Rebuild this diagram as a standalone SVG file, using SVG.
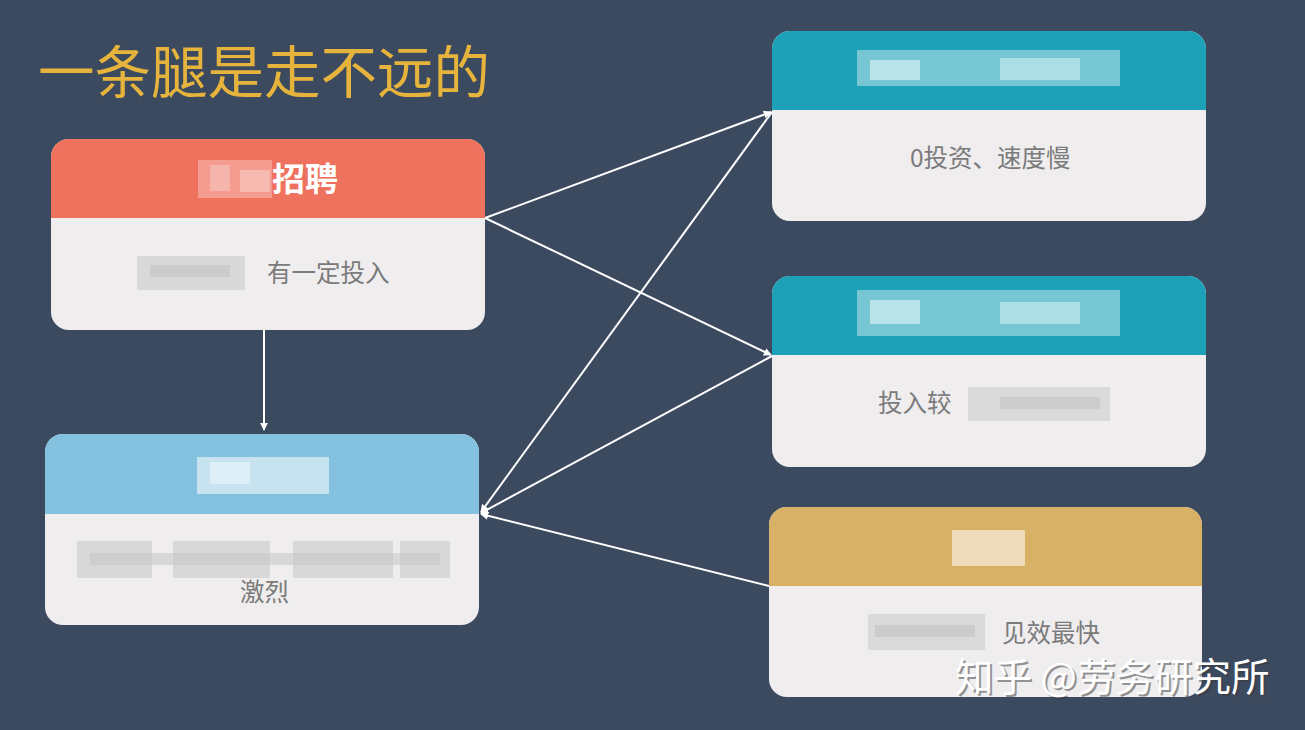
<svg xmlns="http://www.w3.org/2000/svg" width="1305" height="730" viewBox="0 0 1305 730">
<defs>
<style>
.body{fill:#efedee}
.btxt{font-family:"Noto Sans CJK SC","Noto Sans",sans-serif;font-size:24.5px;fill:#7b7b7b}
.htxt{font-family:"Noto Sans CJK SC","Noto Sans",sans-serif;font-size:33px;font-weight:bold;fill:#ffffff}
.conn{stroke:#ffffff;stroke-width:2;fill:none;marker-end:url(#ah)}
.mg{fill:#bdbdbd}
.mw{fill:#ffffff}
</style>
<marker id="ah" viewBox="0 0 10 10" refX="9" refY="5" markerWidth="8" markerHeight="8" orient="auto" markerUnits="userSpaceOnUse">
<path d="M0,0 L10,5 L0,10 z" fill="#ffffff"/>
</marker>
<clipPath id="c1"><rect x="51" y="139" width="434" height="191" rx="18"/></clipPath>
<clipPath id="c2"><rect x="45" y="434" width="434" height="191" rx="18"/></clipPath>
<clipPath id="c3"><rect x="772" y="31" width="434" height="190" rx="18"/></clipPath>
<clipPath id="c4"><rect x="772" y="276" width="434" height="191" rx="18"/></clipPath>
<clipPath id="c5"><rect x="769" y="507" width="433" height="190" rx="18"/></clipPath>
</defs>
<rect width="1305" height="730" fill="#3c4a60"/>
<text x="38" y="93" font-family="Noto Sans CJK SC,Noto Sans,sans-serif" font-size="56.5" fill="#e6b43c">一条腿是走不远的</text>

<g id="connectors">
<line class="conn" x1="485" y1="218" x2="771" y2="112"/>
<line class="conn" x1="485" y1="218" x2="771" y2="355"/>
<line class="conn" x1="772" y1="112" x2="481" y2="512"/>
<line class="conn" x1="772" y1="356" x2="481" y2="513"/>
<line class="conn" x1="769" y1="586" x2="481" y2="514"/>
<line class="conn" x1="264" y1="330" x2="264" y2="430"/>
</g>

<g id="node-recruit" clip-path="url(#c1)">
<rect class="body" x="51" y="139" width="434" height="191"/>
<rect x="51" y="139" width="434" height="79" fill="#ef725f"/>
<g opacity="0.6">
<rect class="mw" x="198" y="160" width="74" height="38" opacity="0.5"/>
<rect class="mw" x="210" y="165" width="20" height="26" opacity="0.6"/>
<rect class="mw" x="240" y="170" width="30" height="22" opacity="0.7"/>
</g>
<text class="htxt" x="272" y="191">招聘</text>
<g opacity="0.8">
<rect class="mg" x="137" y="256" width="108" height="34" opacity="0.5"/>
<rect class="mg" x="150" y="265" width="80" height="12" opacity="0.7"/>
</g>
<text class="btxt" x="267" y="282">有一定投入</text>
</g>

<g id="node-blue" clip-path="url(#c2)">
<rect class="body" x="45" y="434" width="434" height="191"/>
<rect x="45" y="434" width="434" height="80" fill="#84c1de"/>
<rect class="mw" x="197" y="457" width="132" height="37" opacity="0.55"/>
<rect class="mw" x="210" y="462" width="40" height="22" opacity="0.4"/>
<g opacity="0.85">
<rect class="mg" x="77" y="541" width="75" height="37" opacity="0.5"/>
<rect class="mg" x="173" y="541" width="97" height="37" opacity="0.5"/>
<rect class="mg" x="293" y="541" width="100" height="37" opacity="0.5"/>
<rect class="mg" x="400" y="541" width="50" height="37" opacity="0.5"/>
<rect class="mg" x="90" y="553" width="350" height="12" opacity="0.5"/>
</g>
<text class="btxt" x="240" y="601">激烈</text>
</g>

<g id="node-top" clip-path="url(#c3)">
<rect class="body" x="772" y="31" width="434" height="190"/>
<rect x="772" y="31" width="434" height="79" fill="#1da1b8"/>
<rect class="mw" x="857" y="50" width="263" height="36" opacity="0.4"/>
<rect class="mw" x="870" y="60" width="50" height="20" opacity="0.5"/>
<rect class="mw" x="1000" y="58" width="80" height="22" opacity="0.4"/>
<text class="btxt" x="910" y="167">0投资、速度慢</text>
</g>

<g id="node-mid" clip-path="url(#c4)">
<rect class="body" x="772" y="276" width="434" height="191"/>
<rect x="772" y="276" width="434" height="79" fill="#1da1b8"/>
<rect class="mw" x="857" y="290" width="263" height="46" opacity="0.4"/>
<rect class="mw" x="870" y="300" width="50" height="24" opacity="0.5"/>
<rect class="mw" x="1000" y="302" width="80" height="22" opacity="0.4"/>
<text class="btxt" x="878" y="412">投入较</text>
<g opacity="0.85">
<rect class="mg" x="968" y="387" width="142" height="34" opacity="0.45"/>
<rect class="mg" x="1000" y="397" width="100" height="12" opacity="0.6"/>
</g>
</g>

<g id="node-gold" clip-path="url(#c5)">
<rect class="body" x="769" y="507" width="433" height="190"/>
<rect x="769" y="507" width="433" height="79" fill="#d8b066"/>
<rect class="mw" x="952" y="530" width="73" height="36" opacity="0.55"/>
<g opacity="0.85">
<rect class="mg" x="868" y="614" width="117" height="36" opacity="0.45"/>
<rect class="mg" x="875" y="625" width="100" height="12" opacity="0.6"/>
</g>
<text class="btxt" x="1002" y="642">见效最快</text>
</g>

<text x="955" y="691" font-family="Noto Sans CJK SC,Noto Sans,sans-serif" font-size="38.5" fill="#3a3a3a" opacity="0.5" transform="translate(2,2)">知乎 @劳务研究所</text>
<text x="955" y="691" font-family="Noto Sans CJK SC,Noto Sans,sans-serif" font-size="38.5" fill="#ffffff">知乎 @劳务研究所</text>
</svg>
